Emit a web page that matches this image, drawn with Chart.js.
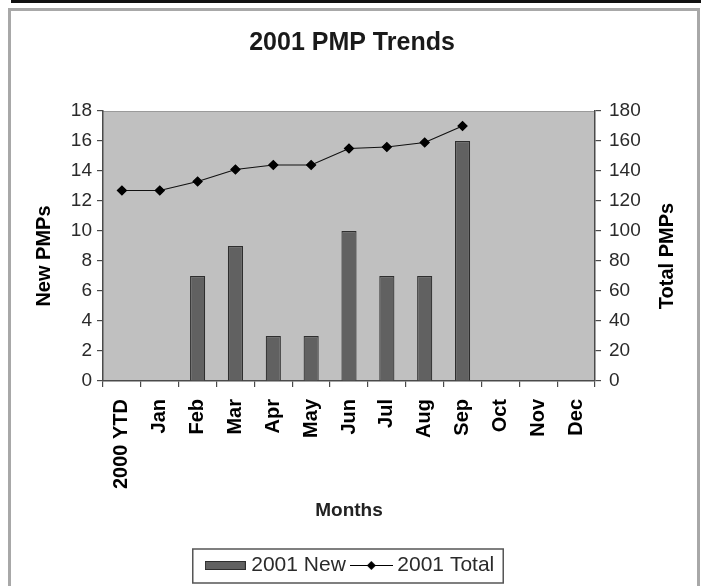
<!DOCTYPE html>
<html>
<head>
<meta charset="utf-8">
<script src="https://cdn.jsdelivr.net/npm/chart.js@4"></script>
<style>
  html, body { margin: 0; padding: 0; background: #fff; }
  #wrap { position: relative; width: 704px; height: 586px; overflow: hidden; background: #fff; }
  #topbar { position: absolute; left: 11px; top: 0; width: 690px; height: 3px; background: #111; }
  #frame { position: absolute; left: 8px; top: 8px; width: 686px; height: 600px; border: 3px solid #a8a8a8; }
  canvas { position: absolute; left: 0; top: 0; }
</style>
</head>
<body>
<div id="wrap">
  <div id="topbar"></div>
  <div id="frame"></div>
  <canvas id="c" width="704" height="586"></canvas>
</div>
<script>
const categories = ['2000 YTD', 'Jan', 'Feb', 'Mar', 'Apr', 'May', 'Jun', 'Jul', 'Aug', 'Sep', 'Oct', 'Nov', 'Dec'];
const newPMPs = [null, null, 7, 9, 3, 3, 10, 7, 7, 16, null, null, null];
const totalPMPs = [127, 127, 133, 141, 144, 144, 155, 156, 159, 170, null, null, null];
const leftTicks = [0, 2, 4, 6, 8, 10, 12, 14, 16, 18];
const rightTicks = [0, 20, 40, 60, 80, 100, 120, 140, 160, 180];
const seriesNames = ['2001 New', '2001 Total'];
const titleText = '2001 PMP Trends';
const xTitle = 'Months';
const yTitle = 'New PMPs';
const y1Title = 'Total PMPs';

const FONT = "'Liberation Sans', Arial, sans-serif";
const BAR_FILL = '#616161';
const BAR_EDGE = '#2e2e2e';
const TEXT = '#2a2a2a';
const AXIS = '#4a4a4a';

function barSwatch() {
  const c = document.createElement('canvas');
  c.width = 41; c.height = 9;
  const g = c.getContext('2d');
  g.fillStyle = BAR_EDGE; g.fillRect(0, 0, 41, 9);
  g.fillStyle = BAR_FILL; g.fillRect(1, 1, 39, 7);
  return c;
}
function lineSwatch() {
  const c = document.createElement('canvas');
  c.width = 43; c.height = 11;
  const g = c.getContext('2d');
  g.strokeStyle = '#000'; g.lineWidth = 1.2;
  g.beginPath(); g.moveTo(0, 5.5); g.lineTo(43, 5.5); g.stroke();
  g.fillStyle = '#000';
  g.beginPath(); g.moveTo(21.5, 1); g.lineTo(26, 5.5); g.lineTo(21.5, 10); g.lineTo(17, 5.5); g.closePath(); g.fill();
  return c;
}

const plotBg = {
  id: 'plotBg',
  beforeDraw(chart) {
    const {ctx, chartArea: a} = chart;
    ctx.save();
    ctx.fillStyle = '#c0c0c0';
    ctx.fillRect(a.left, a.top, a.right - a.left, a.bottom - a.top);
    ctx.strokeStyle = '#9a9a9a';
    ctx.lineWidth = 1;
    ctx.beginPath(); ctx.moveTo(a.left, a.top + 0.5); ctx.lineTo(a.right, a.top + 0.5); ctx.stroke();
    ctx.restore();
  }
};

function vTitle(ctx, text, x, y) {
  ctx.save();
  ctx.font = 'bold 20px ' + FONT;
  ctx.fillStyle = '#000';
  ctx.textAlign = 'center';
  ctx.textBaseline = 'middle';
  ctx.translate(x, y);
  ctx.rotate(-Math.PI / 2);
  ctx.fillText(text, 0, 0);
  ctx.restore();
}

const extras = {
  id: 'extras',
  afterDraw(chart) {
    const {ctx, chartArea: a} = chart;
    const mid = (a.top + a.bottom) / 2 + 10;
    vTitle(ctx, yTitle, 44, mid);
    vTitle(ctx, y1Title, 667, mid);
    const lg = chart.legend;
    if (lg && lg.legendHitBoxes && lg.legendHitBoxes.length) {
      const hb = lg.legendHitBoxes;
      const l = hb[0].left - 17;
      const r = hb[hb.length - 1].left + hb[hb.length - 1].width + 9;
      const t = hb[0].top - 6;
      const b = hb[0].top + hb[0].height + 7;
      ctx.save();
      ctx.strokeStyle = '#555';
      ctx.lineWidth = 1.5;
      ctx.strokeRect(l, t, r - l, b - t);
      ctx.restore();
    }
  }
};

new Chart(document.getElementById('c'), {
  data: {
    labels: categories,
    datasets: [
      {
        type: 'bar', label: seriesNames[0], data: newPMPs, yAxisID: 'y',
        backgroundColor: BAR_FILL, borderColor: BAR_EDGE, borderWidth: 1.2,
        barPercentage: 0.4, categoryPercentage: 1.0, order: 2
      },
      {
        type: 'line', label: seriesNames[1], data: totalPMPs, yAxisID: 'y1',
        borderColor: '#111', borderWidth: 1.2, backgroundColor: '#000',
        pointStyle: 'rectRot', pointRadius: 4.5, pointBackgroundColor: '#000', pointBorderColor: '#000',
        tension: 0, spanGaps: false, order: 1
      }
    ]
  },
  options: {
    responsive: false,
    animation: false,
    events: [],
    layout: { padding: { left: 0, right: 0, top: 0, bottom: 0 } },
    plugins: {
      tooltip: { enabled: false },
      title: {
        display: true, text: titleText, color: '#1a1a1a',
        font: { family: FONT, size: 25, weight: 'bold' },
        padding: { top: 28, bottom: 53 }
      },
      legend: {
        display: true, position: 'bottom',
        labels: {
          color: TEXT,
          font: { family: FONT, size: 21 },
          usePointStyle: true, pointStyleWidth: 31, boxHeight: 12,
          padding: 10,
          generateLabels() {
            return [
              { text: seriesNames[0], pointStyle: barSwatch(), datasetIndex: 0, lineWidth: 0, fillStyle: BAR_FILL, strokeStyle: BAR_EDGE, fontColor: TEXT },
              { text: seriesNames[1], pointStyle: lineSwatch(), datasetIndex: 1, lineWidth: 0, fillStyle: '#000', strokeStyle: '#000', fontColor: TEXT }
            ];
          }
        }
      }
    },
    scales: {
      x: {
        type: 'category', offset: true,
        grid: { display: true, offset: true, drawOnChartArea: false, drawTicks: true, tickLength: 6, color: AXIS, lineWidth: 1.2 },
        border: { display: true, color: AXIS, width: 1.5 },
        ticks: { autoSkip: false, minRotation: 90, maxRotation: 90, padding: 12, color: '#000', font: { family: FONT, size: 20, weight: 'bold' } },
        title: { display: true, text: xTitle, color: '#222', font: { family: FONT, size: 19, weight: 'bold' }, padding: { top: 0, bottom: 23 } },
        afterFit(s) { s.height = 164; }
      },
      y: {
        type: 'linear', position: 'left', min: 0, max: 18,
        afterBuildTicks(s) { s.ticks = leftTicks.map(v => ({ value: v })); },
        grid: { display: true, drawOnChartArea: false, drawTicks: true, tickLength: 6, color: AXIS, lineWidth: 1.2 },
        border: { display: true, color: AXIS, width: 1.5 },
        ticks: { padding: 5, color: TEXT, font: { family: FONT, size: 19 } },
        title: { display: false },
        afterFit(s) { s.width = 103; }
      },
      y1: {
        type: 'linear', position: 'right', min: 0, max: 180,
        afterBuildTicks(s) { s.ticks = rightTicks.map(v => ({ value: v })); },
        grid: { display: true, drawOnChartArea: false, drawTicks: true, tickLength: 6, color: AXIS, lineWidth: 1.2 },
        border: { display: true, color: AXIS, width: 1.5 },
        ticks: { padding: 8, color: TEXT, font: { family: FONT, size: 19 } },
        title: { display: false },
        afterFit(s) { s.width = 109; }
      }
    }
  },
  plugins: [plotBg, extras]
});
</script>
</body>
</html>
